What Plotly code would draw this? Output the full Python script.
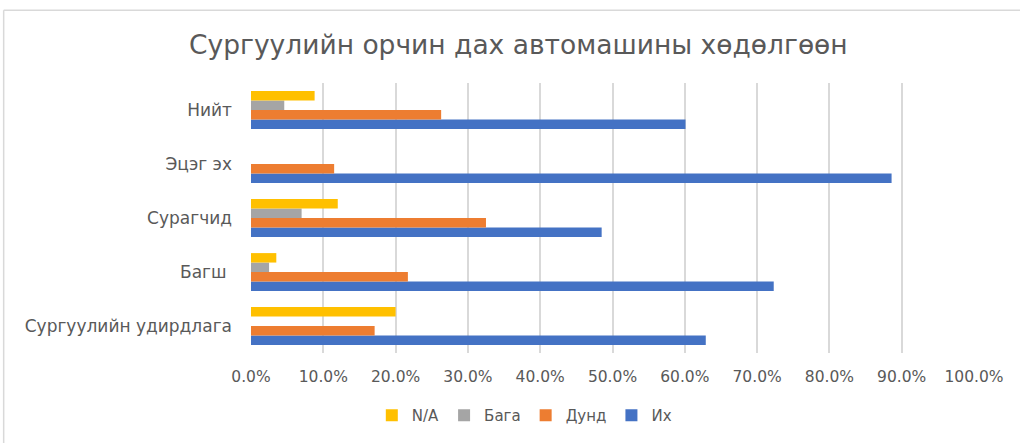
import plotly.graph_objects as go

categories = ["Сургуулийн удирдлага", "Багш", "Сурагчид", "Эцэг эх", "Нийт"]
cat_labels = ["Сургуулийн удирдлага", "Багш ", "Сурагчид", "Эцэг эх", "Нийт"]
ikh = [0.629, 0.723, 0.485, 0.886, 0.601]
dund = [0.171, 0.217, 0.325, 0.115, 0.263]
baga = [0.0, 0.025, 0.070, 0.0, 0.046]
na = [0.200, 0.035, 0.120, 0.0, 0.088]
tick_vals = [0, 0.1, 0.2, 0.3, 0.4, 0.5, 0.6, 0.7, 0.8, 0.9, 1.0]
tick_text = ["0.0%", "10.0%", "20.0%", "30.0%", "40.0%", "50.0%", "60.0%", "70.0%", "80.0%", "90.0%", "100.0%"]

series = [
    ("Их", ikh, "#4472C4"),
    ("Дунд", dund, "#ED7D31"),
    ("Бага", baga, "#A5A5A5"),
    ("N/A", na, "#FFC000"),
]

FONT = "DejaVu Sans, Open Sans, sans-serif"
TXT = "#595959"

fig = go.Figure()
for name, vals, color in series:
    fig.add_trace(go.Bar(
        y=cat_labels, x=vals, name=name, orientation="h",
        marker=dict(color=color, line=dict(width=0)),
    ))

W, H = 1020, 444
L, R, T, B = 250.5, 46, 83, 86.5
pw = W - L - R
ph = H - T - B

fig.update_layout(
    width=W, height=H,
    margin=dict(l=L, r=R, t=T, b=B),
    paper_bgcolor="white", plot_bgcolor="white",
    barmode="group", bargap=0.30, bargroupgap=0,
    font=dict(family=FONT, color=TXT, size=15),
    title=dict(text="Сургуулийн орчин дах автомашины хөдөлгөөн",
               x=(518 - L) / pw, xanchor="center", y=1 - 45 / H, yanchor="middle",
               xref="paper",
               font=dict(family=FONT, size=26.5, color=TXT)),
    xaxis=dict(range=[0, 1.0], tickvals=tick_vals, ticktext=tick_text,
               showgrid=True, gridcolor="#D9D9D9", gridwidth=1.5,
               zeroline=False, showline=False, ticks="",
               ticklabelstandoff=12,
               tickfont=dict(size=15.5, color=TXT), fixedrange=True),
    yaxis=dict(showgrid=False, zeroline=False, showline=False, ticks="",
               tickfont=dict(size=17, color=TXT), ticklabelstandoff=18,
               range=[-0.5, 4.5], fixedrange=True),
    legend=dict(orientation="h", traceorder="reversed",
                x=(524 - L) / pw, xanchor="center", y=-(421 - (H - B)) / ph, yanchor="middle",
                font=dict(size=15, color=TXT), itemwidth=30),
    showlegend=True,
)

# chart area outline (top and left edges visible in the frame)
fig.add_shape(type="line", xref="paper", yref="paper",
              x0=(3 - L) / pw, x1=(W + 5 - L) / pw,
              y0=(H - B - 9) / ph, y1=(H - B - 9) / ph,
              line=dict(color="#D9D9D9", width=1.5), layer="below")
fig.add_shape(type="line", xref="paper", yref="paper",
              x0=(3 - L) / pw, x1=(3 - L) / pw,
              y0=(H - B - 9) / ph, y1=(H - B - (H + 5)) / ph,
              line=dict(color="#D9D9D9", width=1.5), layer="below")

fig.write_html("out.html", config={"displayModeBar": False},
               post_script="document.body.style.margin='0px';")
